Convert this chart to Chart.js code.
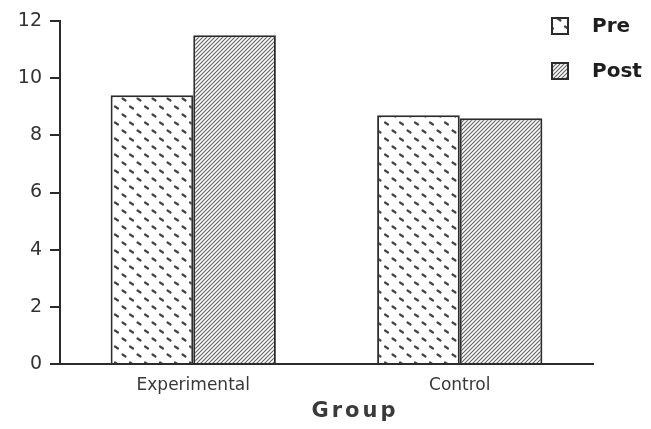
<!DOCTYPE html>
<html>
<head>
<meta charset="utf-8">
<script src="https://cdn.jsdelivr.net/npm/chart.js"></script>
<style>
  *{box-sizing:border-box;margin:0;padding:0}
  body{background:#fff;width:651px;height:429px;overflow:hidden}
  .wrap{position:relative;width:651px;height:429px}
</style>
</head>
<body>
<div class="wrap"><canvas id="chart"></canvas></div>
<script>
const GROUPS = ["Experimental", "Control"];
const PRE = [9.4, 8.7];
const POST = [11.5, 8.6];
const SERIES = ["Pre", "Post"];
const Y_TICKS = [0, 2, 4, 6, 8, 10, 12];

const INK = "#2b2b2b";

// speckled fill: short slanted dashes on a staggered lattice
function dotPattern(ctx) {
  const c = document.createElement("canvas");
  c.width = 15; c.height = 16;
  const g = c.getContext("2d");
  g.fillStyle = "#fff"; g.fillRect(0, 0, 15, 16);
  g.strokeStyle = "#454545"; g.lineWidth = 2.2; g.lineCap = "round";
  g.beginPath();
  g.moveTo(2.5, 2.5); g.lineTo(5.5, 4.5);
  g.moveTo(10, 10.5); g.lineTo(13, 12.5);
  g.stroke();
  return ctx.createPattern(c, "repeat");
}

// dense diagonal hatch
function hatchPattern(ctx) {
  const c = document.createElement("canvas");
  c.width = 4; c.height = 4;
  const g = c.getContext("2d");
  g.fillStyle = "#fff"; g.fillRect(0, 0, 4, 4);
  g.strokeStyle = "#666"; g.lineWidth = 1.2;
  g.beginPath();
  g.moveTo(-1, 5); g.lineTo(5, -1);
  g.moveTo(-1, 1); g.lineTo(1, -1);
  g.moveTo(3, 5); g.lineTo(5, 3);
  g.stroke();
  return ctx.createPattern(c, "repeat");
}

const canvas = document.getElementById("chart");
const ctx = canvas.getContext("2d");
const fills = [dotPattern(ctx), hatchPattern(ctx)];

const legendAndTitle = {
  id: "legendAndTitle",
  afterDraw(chart) {
    const c = chart.ctx;
    c.save();
    // legend on the upper right
    const rows = [26, 71];
    SERIES.forEach((name, i) => {
      const y = rows[i];
      c.fillStyle = fills[i];
      c.fillRect(552, y - 8, 16, 16);
      c.strokeStyle = INK; c.lineWidth = 2;
      c.strokeRect(552, y - 8, 16, 16);
      c.fillStyle = "#1e1e1e";
      c.font = "bold 20px 'DejaVu Sans'";
      c.textAlign = "left"; c.textBaseline = "middle";
      c.fillText(name, 592, y + 1);
    });
    // axis title
    c.fillStyle = "#3a3a3a";
    c.font = "bold 21px 'DejaVu Sans'";
    c.letterSpacing = "3px";
    c.textAlign = "center"; c.textBaseline = "middle";
    c.fillText("Group", 355, 412);
    c.restore();
  }
};

new Chart(ctx, {
  type: "bar",
  data: {
    labels: GROUPS,
    datasets: [
      { label: SERIES[0], data: PRE, backgroundColor: fills[0], borderColor: INK, borderWidth: 2,
        barPercentage: 1, categoryPercentage: 0.62 },
      { label: SERIES[1], data: POST, backgroundColor: fills[1], borderColor: INK, borderWidth: 2,
        barPercentage: 1, categoryPercentage: 0.62 }
    ]
  },
  options: {
    responsive: true, maintainAspectRatio: false, animation: false,
    layout: { padding: { left: 0, top: 21, right: 58, bottom: 0 } },
    plugins: { legend: { display: false }, tooltip: { enabled: false } },
    scales: {
      x: {
        grid: { display: false },
        border: { display: true, color: INK, width: 2 },
        ticks: { color: "#383838", font: { family: "'DejaVu Sans'", size: 17 }, padding: 3 },
        afterFit: s => { s.height = 65; }
      },
      y: {
        min: 0, max: 12,
        afterBuildTicks: s => { s.ticks = Y_TICKS.map(v => ({ value: v })); },
        grid: { drawOnChartArea: false, drawTicks: true, tickLength: 10, color: INK, lineWidth: 2 },
        border: { display: true, color: INK, width: 2 },
        ticks: { color: "#333", font: { family: "'DejaVu Sans'", size: 19 }, padding: 8 },
        afterFit: s => { s.width = 60; }
      }
    }
  },
  plugins: [legendAndTitle]
});
</script>
</body>
</html>
